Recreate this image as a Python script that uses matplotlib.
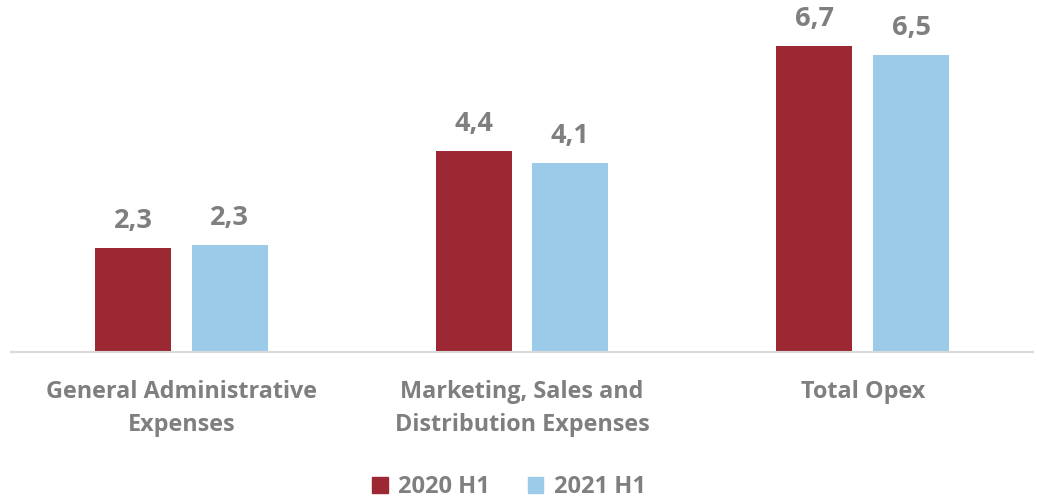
import numpy as np
import matplotlib.pyplot as plt
from matplotlib.patches import Patch

plt.rcParams['font.family'] = ['Open Sans', 'DejaVu Sans']

categories = ['General Administrative\nExpenses',
              'Marketing, Sales and\nDistribution Expenses',
              'Total Opex']
series_names = ['2020 H1', '2021 H1']
h1_2020 = [2.27, 4.41, 6.70]
h1_2021 = [2.34, 4.14, 6.52]

RED = '#9B2832'
BLUE = '#9BCBE8'
GREY = '#7F7F7F'

fig = plt.figure(figsize=(10.37, 5.04), dpi=100)
ax = fig.add_axes([11/1037, 152/504, 1022/1037, 342/504])

x = np.arange(len(categories))
w = 0.223
off = 0.142
for vals, color, dx in [(h1_2020, RED, -off), (h1_2021, BLUE, off)]:
    ax.bar(x + dx, vals, width=w, color=color, zorder=2)
    for xi, v in zip(x + dx, vals):
        ax.annotate(f"{v:.1f}".replace('.', ','), (xi, v),
                    xytext=(0, 14.5), textcoords='offset points',
                    ha='center', va='baseline', fontsize=19.5,
                    fontweight='bold', color=GREY)

ax.set_xlim(-0.5, 2.5)
ax.set_ylim(0, 7.5)
ax.set_yticks([])
ax.set_xticks(x)
ax.set_xticklabels(categories, fontsize=16.8, fontweight='bold', color=GREY,
                   linespacing=1.5)
ax.tick_params(axis='x', length=0, pad=20)
for s in ['top', 'right', 'left']:
    ax.spines[s].set_visible(False)
ax.spines['bottom'].set_color('#D9D9D9')
ax.spines['bottom'].set_linewidth(1.5)

handles = [Patch(color=RED), Patch(color=BLUE)]
leg = fig.legend(handles, series_names, loc='center', bbox_to_anchor=(509/1037, 1 - 487/504),
                 ncol=2, frameon=False, handlelength=0.65, handleheight=0.65,
                 handletextpad=0.45, columnspacing=1.6,
                 prop={'size': 17, 'weight': 'bold'})
for t in leg.get_texts():
    t.set_color(GREY)

fig.savefig('out.png', dpi=100)
